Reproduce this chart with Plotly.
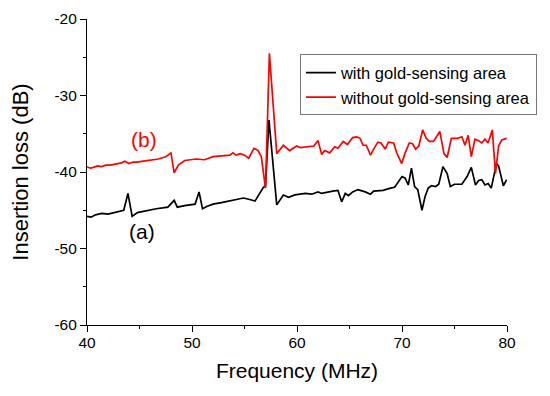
import plotly.graph_objects as go

# Curve (a): with gold-sensing area
freq_a = [40.0, 40.4, 40.8, 41.4, 42.0, 42.6, 43.2, 43.5, 43.9, 44.3, 44.8, 45.4, 46.0, 46.6, 47.2, 47.7,
          48.3, 48.6, 49.3, 49.8, 50.3, 50.67, 51.0, 51.4, 52.0, 52.8, 53.6, 54.3, 54.9, 55.5, 56.0, 56.8,
          57.0, 57.33, 58.07, 58.7, 59.2, 59.8, 60.3, 60.8, 61.4, 62.0, 62.35, 62.95, 63.4, 63.9, 64.25,
          64.6, 64.9, 65.3, 65.8, 66.5, 67.0, 67.3, 68.2, 68.9, 69.3, 70.0, 70.3, 70.6, 70.9, 71.2, 71.5,
          71.9, 72.2, 72.5, 72.8, 73.2, 73.5, 73.9, 74.3, 74.6, 75.0, 75.7, 76.2, 76.6, 77.0, 77.3, 77.6,
          77.9, 78.2, 78.5, 79.0, 79.2, 79.65, 79.97]
loss_a = [-45.8, -45.9, -45.6, -45.4, -45.5, -45.3, -45.1, -45.0, -42.8, -45.8, -45.3, -45.1, -44.9, -44.8,
          -44.7, -44.6, -43.7, -44.6, -44.4, -44.3, -44.2, -42.6, -44.8, -44.5, -44.2, -44.0, -43.8, -43.6,
          -43.4, -43.6, -43.8, -42.0, -41.8, -33.2, -44.3, -43.0, -43.3, -43.0, -42.9, -42.8, -42.9, -42.6,
          -42.8, -42.6, -42.5, -42.4, -43.9, -42.8, -43.1, -42.6, -42.3, -42.6, -42.9, -42.5, -42.4, -42.1,
          -42.0, -40.6, -40.8, -41.7, -39.5, -41.9, -42.3, -45.0, -43.2, -42.1, -41.8, -41.9, -41.6, -39.3,
          -40.2, -41.9, -41.6, -41.6, -40.6, -39.4, -41.7, -41.1, -41.0, -41.7, -41.5, -42.1, -38.9, -39.2,
          -41.8, -41.0]

# Curve (b): without gold-sensing area
freq_b = [40.0, 40.3, 40.6, 41.0, 41.4, 41.8, 42.2, 42.6, 43.0, 43.3, 43.6, 44.0, 44.4, 44.8, 45.2, 45.6,
          46.2, 46.8, 47.5, 48.0, 48.3, 48.7, 49.3, 49.8, 50.4, 51.2, 52.0, 52.8, 53.6, 53.9, 54.2, 54.6,
          55.0, 55.4, 55.9, 56.3, 56.6, 57.0, 57.37, 58.07, 58.7, 59.3, 59.97, 60.3, 60.95, 61.6, 62.0,
          62.35, 62.65, 63.1, 63.6, 63.9, 64.4, 64.8, 65.3, 65.7, 66.0, 66.3, 66.6, 67.0, 67.3, 67.7, 68.0,
          68.4, 68.7, 69.2, 69.5, 69.97, 70.3, 70.7, 71.0, 71.3, 71.6, 71.97, 72.3, 72.6, 73.0, 73.6, 74.0,
          74.3, 74.7, 75.3, 75.7, 76.0, 76.3, 76.6, 76.95, 77.3, 77.6, 77.9, 78.2, 78.6, 78.9, 79.2, 79.5,
          79.97]
loss_b = [-39.3, -39.5, -39.4, -39.2, -39.3, -39.1, -39.1, -39.0, -38.9, -38.8, -38.6, -38.9, -38.7, -38.7,
          -38.6, -38.5, -38.4, -38.3, -38.0, -37.5, -40.1, -39.1, -38.5, -38.4, -38.3, -38.4, -38.0, -37.9,
          -37.8, -37.5, -37.8, -37.6, -37.8, -38.2, -36.9, -37.2, -38.0, -42.1, -24.5, -37.6, -36.5, -37.2,
          -36.6, -36.8, -36.7, -36.6, -35.9, -37.7, -37.2, -37.5, -36.7, -36.9, -36.0, -36.4, -35.5, -35.4,
          -35.6, -36.5, -36.5, -37.8, -37.0, -36.1, -36.2, -37.0, -36.1, -36.2, -37.5, -38.9, -37.5, -36.2,
          -36.3, -37.0, -36.6, -34.5, -35.6, -36.0, -36.0, -34.7, -37.6, -38.1, -35.6, -35.6, -35.4, -36.5,
          -35.2, -38.0, -35.7, -35.9, -36.2, -35.7, -36.2, -34.5, -40.2, -36.6, -35.8, -35.6]

x_ticks = [40, 50, 60, 70, 80]
y_ticks = [-60, -50, -40, -30, -20]

FONT = "Liberation Sans, Arial, sans-serif"

fig = go.Figure()
fig.add_trace(go.Scatter(x=freq_a, y=loss_a, mode="lines", name="with gold-sensing area",
                         line=dict(color="black", width=1.7)))
fig.add_trace(go.Scatter(x=freq_b, y=loss_b, mode="lines", name="without gold-sensing area",
                         line=dict(color="red", width=1.7)))

fig.add_annotation(x=45.46, y=-35.8, text="(b)", showarrow=False,
                   font=dict(family=FONT, size=21, color="red"))
fig.add_annotation(x=45.26, y=-47.8, text="(a)", showarrow=False,
                   font=dict(family=FONT, size=21, color="black"))

axis_common = dict(showline=True, linecolor="black", linewidth=1.2, ticks="outside", ticklen=6,
                   tickwidth=1.2, tickcolor="black", showgrid=False, zeroline=False, mirror=False,
                   automargin=False,
                   tickfont=dict(family=FONT, size=15.5, color="black"))

fig.update_xaxes(range=[40, 80], tickvals=x_ticks, ticktext=[str(v) for v in x_ticks],
                 ticklabelstandoff=-3,
                 minor=dict(tickvals=[45, 55, 65, 75], ticklen=3, ticks="outside", tickcolor="black", tickwidth=1.2),
                 title=dict(text="Frequency (MHz)", font=dict(family=FONT, size=21, color="black"), standoff=13),
                 **axis_common)
fig.update_yaxes(range=[-60, -20], tickvals=y_ticks, ticktext=[str(v) for v in y_ticks],
                 minor=dict(tickvals=[-55, -45, -35, -25], ticklen=3, ticks="outside", tickcolor="black", tickwidth=1.2),
                 title=dict(text="Insertion loss (dB)", font=dict(family=FONT, size=22, color="black"), standoff=20),
                 **axis_common)

fig.update_layout(
    width=550, height=396,
    margin=dict(l=79, r=51, t=11, b=79, autoexpand=False),
    paper_bgcolor="white", plot_bgcolor="white",
    showlegend=True,
    legend=dict(x=0.507, y=0.884, xanchor="left", yanchor="top", bgcolor="white",
                bordercolor="#777777", borderwidth=1,
                font=dict(family=FONT, size=16.5, color="black"), tracegroupgap=0),
    font=dict(family=FONT),
)

fig.write_html("out.html")
